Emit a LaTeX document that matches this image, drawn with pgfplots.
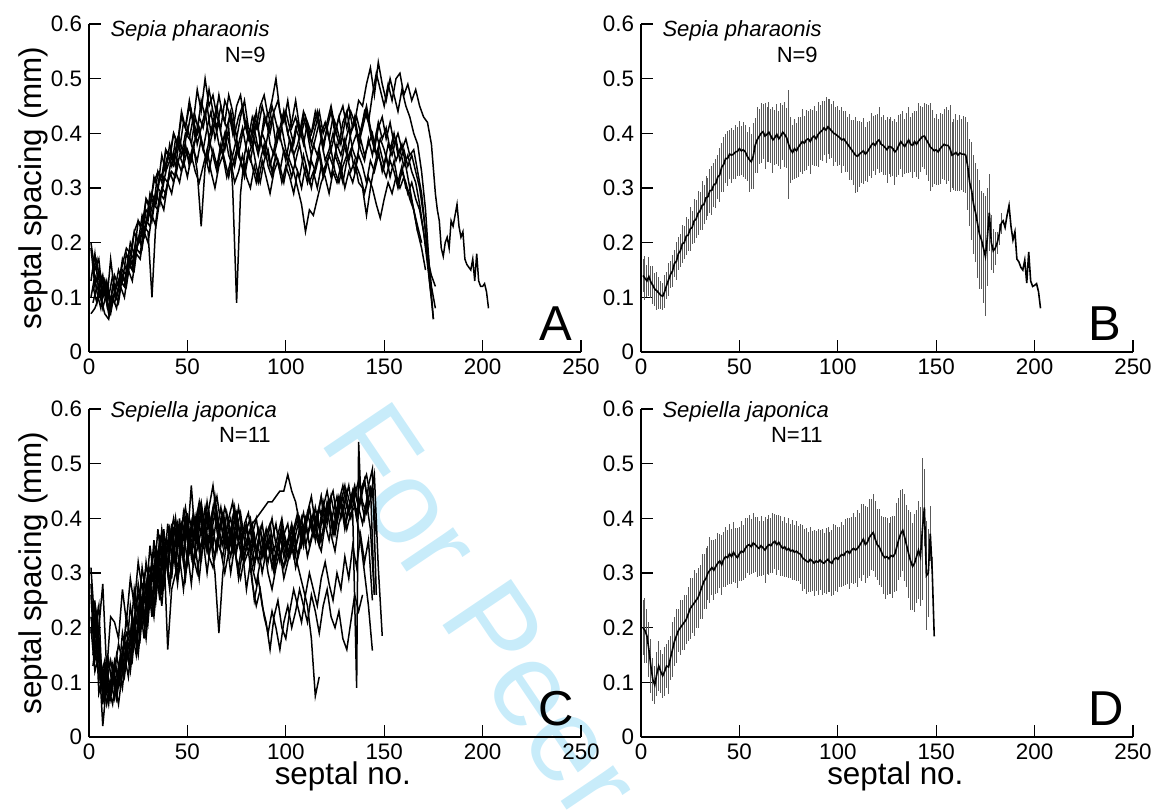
\documentclass[border=0pt]{standalone}
\usepackage{pgfplots}
\pgfplotsset{compat=1.18}
\usepackage{pgfplotstable}
\usepackage{fontspec}
\setmainfont{Liberation Sans}
\definecolor{wm}{RGB}{200,236,250}
\definecolor{errgray}{RGB}{90,90,90}

\pgfplotstableread{
x y e
1 0.140 0.030
2 0.135 0.040
3 0.130 0.030
4 0.138 0.035
5 0.128 0.030
6 0.122 0.035
7 0.115 0.030
8 0.112 0.035
9 0.108 0.030
10 0.104 0.025
11 0.102 0.025
12 0.110 0.030
13 0.122 0.025
14 0.132 0.030
15 0.142 0.025
16 0.148 0.030
17 0.162 0.025
18 0.166 0.035
19 0.180 0.030
20 0.185 0.030
21 0.198 0.035
22 0.200 0.030
23 0.212 0.035
24 0.214 0.030
25 0.225 0.040
26 0.228 0.030
27 0.240 0.040
28 0.243 0.035
29 0.254 0.040
30 0.258 0.035
31 0.268 0.045
32 0.270 0.035
33 0.282 0.040
34 0.284 0.035
35 0.295 0.040
36 0.296 0.045
37 0.306 0.040
38 0.308 0.045
39 0.320 0.040
40 0.324 0.050
41 0.338 0.045
42 0.343 0.050
43 0.354 0.045
44 0.354 0.050
45 0.362 0.045
46 0.360 0.050
47 0.362 0.045
48 0.366 0.050
49 0.367 0.045
50 0.372 0.050
51 0.368 0.045
52 0.370 0.050
53 0.366 0.050
54 0.358 0.045
55 0.352 0.060
56 0.348 0.050
57 0.358 0.060
58 0.378 0.050
59 0.388 0.060
60 0.394 0.050
61 0.400 0.055
62 0.403 0.050
63 0.395 0.060
64 0.398 0.050
65 0.402 0.055
66 0.395 0.050
67 0.388 0.060
68 0.392 0.050
69 0.398 0.055
70 0.390 0.050
71 0.395 0.060
72 0.402 0.050
73 0.398 0.060
74 0.392 0.055
75 0.380 0.100
76 0.370 0.060
77 0.365 0.050
78 0.372 0.055
79 0.368 0.050
80 0.375 0.055
81 0.380 0.050
82 0.385 0.060
83 0.382 0.050
84 0.388 0.055
85 0.390 0.050
86 0.385 0.060
87 0.392 0.050
88 0.395 0.055
89 0.390 0.050
90 0.398 0.060
91 0.402 0.050
92 0.405 0.055
93 0.410 0.050
94 0.406 0.060
95 0.412 0.050
96 0.408 0.055
97 0.404 0.050
98 0.400 0.060
99 0.398 0.050
100 0.395 0.055
101 0.392 0.050
102 0.388 0.060
103 0.390 0.050
104 0.385 0.055
105 0.380 0.050
106 0.375 0.060
107 0.370 0.055
108 0.365 0.060
109 0.360 0.070
110 0.358 0.065
111 0.362 0.060
112 0.365 0.055
113 0.368 0.060
114 0.362 0.050
115 0.366 0.055
116 0.372 0.050
117 0.378 0.060
118 0.382 0.050
119 0.378 0.055
120 0.385 0.050
121 0.388 0.060
122 0.380 0.050
123 0.378 0.055
124 0.374 0.050
125 0.370 0.060
126 0.376 0.050
127 0.375 0.055
128 0.372 0.050
129 0.366 0.060
130 0.370 0.050
131 0.378 0.055
132 0.385 0.050
133 0.380 0.060
134 0.376 0.050
135 0.382 0.055
136 0.388 0.060
137 0.380 0.050
138 0.378 0.060
139 0.385 0.055
140 0.380 0.060
141 0.386 0.070
142 0.390 0.060
143 0.394 0.055
144 0.395 0.060
145 0.388 0.065
146 0.382 0.070
147 0.375 0.080
148 0.372 0.070
149 0.368 0.060
150 0.370 0.065
151 0.366 0.060
152 0.372 0.065
153 0.376 0.060
154 0.380 0.065
155 0.378 0.070
156 0.378 0.065
157 0.372 0.080
158 0.360 0.060
159 0.362 0.065
160 0.365 0.070
161 0.360 0.065
162 0.364 0.070
163 0.362 0.065
164 0.362 0.070
165 0.360 0.070
166 0.340 0.080
167 0.310 0.080
168 0.295 0.090
169 0.270 0.090
170 0.255 0.090
171 0.235 0.100
172 0.215 0.100
173 0.205 0.090
174 0.190 0.100
175 0.175 0.110
176 0.210 0.090
177 0.255 0.070
178 0.200 0.050
179 0.185 0.040
180 0.190 0.030
181 0.200 0.020
182 0.215 0.020
183 0.235 0.020
184 0.240 0
185 0.228 0
186 0.250 0
187 0.268 0
188 0.230 0
189 0.205 0
190 0.220 0
191 0.170 0
192 0.165 0
193 0.155 0
194 0.150 0
195 0.168 0
196 0.126 0
197 0.183 0
198 0.130 0
199 0.120 0
200 0.122 0
201 0.125 0
202 0.110 0
203 0.080 0
}\tabB

\pgfplotstableread{
x y e
1 0.200 0.050
2 0.195 0.060
3 0.185 0.050
4 0.160 0.050
5 0.130 0.050
6 0.105 0.040
7 0.095 0.035
8 0.115 0.040
9 0.130 0.045
10 0.120 0.040
11 0.112 0.040
12 0.120 0.045
13 0.130 0.040
14 0.128 0.050
15 0.145 0.040
16 0.160 0.050
17 0.175 0.045
18 0.185 0.050
19 0.195 0.040
20 0.200 0.050
21 0.205 0.045
22 0.210 0.050
23 0.215 0.045
24 0.225 0.050
25 0.235 0.055
26 0.240 0.050
27 0.245 0.060
28 0.250 0.050
29 0.255 0.055
30 0.265 0.050
31 0.275 0.060
32 0.285 0.050
33 0.290 0.055
34 0.300 0.050
35 0.305 0.060
36 0.310 0.050
37 0.305 0.055
38 0.312 0.050
39 0.318 0.055
40 0.322 0.050
41 0.315 0.055
42 0.325 0.050
43 0.330 0.055
44 0.328 0.050
45 0.335 0.055
46 0.330 0.050
47 0.338 0.055
48 0.332 0.050
49 0.328 0.055
50 0.335 0.050
51 0.340 0.055
52 0.338 0.050
53 0.345 0.055
54 0.350 0.050
55 0.352 0.055
56 0.348 0.050
57 0.355 0.055
58 0.352 0.050
59 0.348 0.055
60 0.345 0.050
61 0.350 0.055
62 0.346 0.050
63 0.342 0.060
64 0.348 0.050
65 0.352 0.055
66 0.350 0.050
67 0.355 0.055
68 0.358 0.050
69 0.352 0.055
70 0.356 0.050
71 0.350 0.055
72 0.345 0.050
73 0.348 0.055
74 0.342 0.050
75 0.345 0.055
76 0.340 0.050
77 0.342 0.055
78 0.338 0.050
79 0.340 0.055
80 0.336 0.050
81 0.335 0.055
82 0.328 0.060
83 0.325 0.055
84 0.322 0.060
85 0.320 0.055
86 0.325 0.060
87 0.322 0.055
88 0.318 0.060
89 0.322 0.055
90 0.320 0.060
91 0.324 0.055
92 0.320 0.060
93 0.318 0.055
94 0.322 0.060
95 0.325 0.060
96 0.320 0.055
97 0.318 0.060
98 0.325 0.065
99 0.328 0.060
100 0.325 0.060
101 0.330 0.055
102 0.334 0.060
103 0.332 0.055
104 0.338 0.060
105 0.340 0.060
106 0.336 0.065
107 0.342 0.060
108 0.345 0.065
109 0.342 0.060
110 0.345 0.070
111 0.350 0.060
112 0.356 0.070
113 0.362 0.065
114 0.352 0.070
115 0.356 0.065
116 0.365 0.070
117 0.370 0.065
118 0.374 0.070
119 0.362 0.070
120 0.352 0.065
121 0.348 0.070
122 0.340 0.065
123 0.332 0.070
124 0.328 0.075
125 0.330 0.070
126 0.326 0.065
127 0.332 0.070
128 0.330 0.075
129 0.335 0.070
130 0.348 0.080
131 0.362 0.075
132 0.372 0.080
133 0.378 0.075
134 0.365 0.080
135 0.350 0.075
136 0.335 0.080
137 0.322 0.090
138 0.312 0.080
139 0.318 0.090
140 0.330 0.085
141 0.342 0.090
142 0.330 0.090
143 0.380 0.130
144 0.420 0.070
145 0.295 0.100
146 0.300 0.080
147 0.372 0.050
148 0.300 0.030
149 0.184 0
}\tabD

\pgfplotsset{
  panel/.style={
    scale only axis, width=246bp, height=164bp, anchor=south west,
    xmin=0, xmax=250, ymin=0, ymax=0.6,
    axis x line*=bottom, axis y line*=left,
    xtick={0,50,100,150,200,250},
    ytick={0,0.1,0.2,0.3,0.4,0.5,0.6},
    tick align=inside, major tick length=5.8bp,
    every tick/.style={black, line width=0.6bp},
    axis line style={black, line width=0.9bp},
    tick label style={font=\fontsize{11.2bp}{13bp}\selectfont},
    /pgf/number format/assume math mode=true,
    yticklabel style={/pgf/number format/fixed, /pgf/number format/precision=1},
    clip=false,
  },
  ser/.style={black, line width=0.75bp, mark=none},
  ebar/.style={draw=none, mark=none,
    error bars/.cd, y dir=both, y explicit, error mark=none,
    error bar style={draw=errgray, line width=0.45bp, solid}},
}
\newcommand{\ttlfont}{\fontsize{11bp}{13bp}\selectfont\itshape}
\newcommand{\nfont}{\fontsize{11bp}{13bp}\selectfont}
\newcommand{\letfont}{\fontsize{24.5bp}{28bp}\selectfont}
\newcommand{\labfont}{\fontsize{15.7bp}{18bp}\selectfont}

\begin{document}
\begin{tikzpicture}
\path[use as bounding box] (0bp,0bp) rectangle (580.5bp,-405bp);
\node[rotate=-56, anchor=base west, text=wm, font=\fontsize{60bp}{72bp}\selectfont, inner sep=0pt] at (159bp,-220bp) {For Peer Review};

% Panel A
\begin{axis}[panel, at={(44.5bp,-176bp)}]
% s1
\addplot[ser] coordinates {(1,0.19)(3,0.12)(5,0.15)(7,0.10)(9,0.12)(11,0.08)(13,0.11)(15,0.13)(17,0.16)(19,0.19)(21,0.18)(23,0.22)(25,0.24)(27,0.23)(29,0.28)(31,0.27)(33,0.31)(35,0.33)(37,0.32)(39,0.37)(41,0.36)(43,0.40)(45,0.38)(47,0.43)(49,0.41)(51,0.45)(53,0.42)(55,0.40)(57,0.46)(59,0.43)(61,0.48)(63,0.44)(65,0.41)(67,0.45)(69,0.42)(71,0.47)(73,0.44)(75,0.39)(77,0.43)(79,0.46)(81,0.41)(83,0.40)(85,0.44)(87,0.38)(89,0.43)(91,0.41)(93,0.45)(95,0.42)(97,0.39)(99,0.44)(101,0.40)(103,0.42)(105,0.46)(107,0.41)(109,0.38)(111,0.42)(113,0.40)(115,0.44)(117,0.41)(119,0.37)(121,0.41)(123,0.44)(125,0.40)(127,0.43)(129,0.45)(131,0.41)(133,0.44)(135,0.42)(137,0.46)(139,0.45)(141,0.49)(143,0.52)(145,0.47)(147,0.53)(149,0.49)(151,0.46)(153,0.50)(155,0.47)(157,0.44)(159,0.48)(161,0.45)(163,0.43)(165,0.40)(167,0.38)(169,0.33)(171,0.26)(173,0.15)(175,0.06)};
% s2
\addplot[ser] coordinates {(2,0.15)(4,0.17)(6,0.10)(8,0.13)(10,0.08)(12,0.09)(14,0.12)(16,0.14)(18,0.13)(20,0.17)(22,0.16)(24,0.21)(26,0.20)(28,0.25)(30,0.24)(32,0.29)(34,0.27)(36,0.32)(38,0.33)(40,0.36)(42,0.34)(44,0.39)(46,0.37)(48,0.42)(50,0.40)(52,0.44)(54,0.39)(56,0.43)(58,0.41)(60,0.45)(62,0.40)(64,0.42)(66,0.47)(68,0.43)(70,0.41)(72,0.44)(74,0.40)(76,0.43)(78,0.45)(80,0.41)(82,0.39)(84,0.43)(86,0.41)(88,0.45)(90,0.42)(92,0.40)(94,0.44)(96,0.46)(98,0.42)(100,0.44)(102,0.41)(104,0.38)(106,0.42)(108,0.40)(110,0.43)(112,0.39)(114,0.41)(116,0.44)(118,0.40)(120,0.42)(122,0.39)(124,0.43)(126,0.41)(128,0.38)(130,0.42)(132,0.45)(134,0.41)(136,0.43)(138,0.40)(140,0.44)(142,0.42)(144,0.47)(146,0.51)(148,0.48)(150,0.45)(152,0.49)(154,0.46)(156,0.50)(158,0.51)(160,0.47)(162,0.49)(164,0.46)(166,0.48)(168,0.45)(170,0.43)(172,0.42)(174,0.38)(176,0.29)(177,0.26)(178,0.24)(179,0.19)(180,0.175)(181,0.20)(182,0.21)(183,0.19)(184,0.24)(185,0.23)(186,0.25)(187,0.27)(188,0.23)(189,0.21)(190,0.22)(191,0.17)(192,0.16)(193,0.155)(194,0.15)(195,0.17)(196,0.13)(197,0.18)(198,0.13)(199,0.12)(200,0.12)(201,0.125)(202,0.11)(203,0.08)};
% s3
\addplot[ser] coordinates {(1,0.10)(3,0.14)(5,0.12)(7,0.08)(9,0.11)(11,0.10)(13,0.09)(15,0.12)(17,0.15)(19,0.14)(21,0.18)(23,0.17)(25,0.20)(27,0.22)(29,0.26)(31,0.25)(33,0.28)(35,0.30)(37,0.29)(39,0.33)(41,0.35)(43,0.34)(45,0.38)(47,0.36)(49,0.40)(51,0.39)(53,0.43)(55,0.38)(57,0.41)(59,0.44)(61,0.39)(63,0.42)(65,0.45)(67,0.40)(69,0.37)(71,0.41)(73,0.30)(75,0.09)(77,0.29)(79,0.36)(81,0.40)(83,0.38)(85,0.42)(87,0.39)(89,0.36)(91,0.40)(93,0.43)(95,0.38)(97,0.41)(99,0.44)(101,0.40)(103,0.37)(105,0.41)(107,0.39)(109,0.43)(111,0.40)(113,0.36)(115,0.39)(117,0.42)(119,0.38)(121,0.41)(123,0.37)(125,0.40)(127,0.43)(129,0.39)(131,0.36)(133,0.40)(135,0.42)(137,0.38)(139,0.41)(141,0.44)(143,0.40)(145,0.37)(147,0.41)(149,0.43)(151,0.39)(153,0.42)(155,0.38)(157,0.40)(159,0.37)(161,0.39)(163,0.36)(165,0.37)(167,0.33)(169,0.29)(171,0.22)(173,0.13)(175,0.06)};
% s4
\addplot[ser] coordinates {(2,0.12)(4,0.09)(6,0.14)(8,0.11)(10,0.07)(12,0.12)(14,0.10)(16,0.13)(18,0.12)(20,0.16)(22,0.15)(24,0.19)(26,0.18)(28,0.23)(30,0.22)(32,0.10)(34,0.24)(36,0.29)(38,0.28)(40,0.31)(42,0.33)(44,0.32)(46,0.36)(48,0.34)(50,0.37)(52,0.35)(54,0.39)(56,0.41)(58,0.37)(60,0.35)(62,0.39)(64,0.42)(66,0.38)(68,0.36)(70,0.40)(72,0.37)(74,0.34)(76,0.38)(78,0.41)(80,0.37)(82,0.35)(84,0.39)(86,0.36)(88,0.40)(90,0.38)(92,0.34)(94,0.37)(96,0.41)(98,0.38)(100,0.35)(102,0.39)(104,0.36)(106,0.38)(108,0.41)(110,0.37)(112,0.34)(114,0.38)(116,0.36)(118,0.39)(120,0.35)(122,0.37)(124,0.40)(126,0.36)(128,0.34)(130,0.38)(132,0.41)(134,0.37)(136,0.35)(138,0.39)(140,0.36)(142,0.38)(144,0.40)(146,0.36)(148,0.39)(150,0.37)(152,0.34)(154,0.38)(156,0.35)(158,0.37)(160,0.34)(162,0.36)(164,0.33)(166,0.31)(168,0.27)(170,0.22)(172,0.16)(174,0.10)};
% s5
\addplot[ser] coordinates {(1,0.07)(3,0.08)(5,0.10)(7,0.12)(9,0.09)(11,0.07)(13,0.11)(15,0.09)(17,0.14)(19,0.12)(21,0.17)(23,0.15)(25,0.21)(27,0.19)(29,0.24)(31,0.23)(33,0.27)(35,0.26)(37,0.30)(39,0.29)(41,0.33)(43,0.31)(45,0.35)(47,0.33)(49,0.37)(51,0.35)(53,0.38)(55,0.33)(57,0.23)(59,0.34)(61,0.39)(63,0.36)(65,0.33)(67,0.37)(69,0.40)(71,0.36)(73,0.34)(75,0.37)(77,0.35)(79,0.32)(81,0.36)(83,0.38)(85,0.34)(87,0.31)(89,0.35)(91,0.37)(93,0.33)(95,0.36)(97,0.34)(99,0.31)(101,0.35)(103,0.38)(105,0.34)(107,0.32)(109,0.36)(111,0.33)(113,0.30)(115,0.34)(117,0.37)(119,0.33)(121,0.35)(123,0.32)(125,0.36)(127,0.34)(129,0.31)(131,0.35)(133,0.37)(135,0.33)(137,0.36)(139,0.34)(141,0.31)(143,0.35)(145,0.33)(147,0.36)(149,0.34)(151,0.32)(153,0.35)(155,0.33)(157,0.30)(159,0.33)(161,0.31)(163,0.28)(165,0.26)(167,0.22)(169,0.19)(171,0.15)};
% s6
\addplot[ser] coordinates {(2,0.16)(4,0.11)(6,0.08)(8,0.13)(10,0.10)(12,0.14)(14,0.10)(16,0.13)(18,0.12)(20,0.17)(22,0.15)(24,0.19)(26,0.22)(28,0.21)(30,0.26)(32,0.24)(34,0.29)(36,0.27)(38,0.32)(40,0.31)(42,0.36)(44,0.34)(46,0.39)(48,0.36)(50,0.41)(52,0.38)(54,0.43)(56,0.40)(58,0.37)(60,0.41)(62,0.44)(64,0.39)(66,0.42)(68,0.38)(70,0.41)(72,0.43)(74,0.39)(76,0.36)(78,0.40)(80,0.42)(82,0.38)(84,0.41)(86,0.37)(88,0.40)(90,0.43)(92,0.38)(94,0.36)(96,0.39)(98,0.41)(100,0.37)(102,0.35)(104,0.33)(106,0.30)(108,0.27)(110,0.22)(112,0.26)(114,0.25)(116,0.28)(118,0.31)(120,0.33)(122,0.36)(124,0.34)(126,0.38)(128,0.36)(130,0.39)(132,0.35)(134,0.38)(136,0.40)(138,0.37)(140,0.35)(142,0.39)(144,0.36)(146,0.40)(148,0.37)(150,0.34)(152,0.38)(154,0.36)(156,0.39)(158,0.35)(160,0.37)(162,0.34)(164,0.36)(166,0.33)(168,0.30)(170,0.25)(172,0.19)(174,0.12)(176,0.08)};
% s7
\addplot[ser] coordinates {(1,0.20)(3,0.15)(5,0.17)(7,0.10)(9,0.13)(11,0.09)(13,0.14)(15,0.12)(17,0.17)(19,0.15)(21,0.20)(23,0.18)(25,0.24)(27,0.22)(29,0.28)(31,0.26)(33,0.32)(35,0.30)(37,0.36)(39,0.33)(41,0.38)(43,0.35)(45,0.39)(47,0.36)(49,0.38)(51,0.34)(53,0.37)(55,0.35)(57,0.39)(59,0.36)(61,0.33)(63,0.37)(65,0.34)(67,0.38)(69,0.35)(71,0.32)(73,0.36)(75,0.39)(77,0.35)(79,0.33)(81,0.37)(83,0.34)(85,0.31)(87,0.35)(89,0.38)(91,0.34)(93,0.32)(95,0.36)(97,0.33)(99,0.37)(101,0.35)(103,0.32)(105,0.35)(107,0.38)(109,0.34)(111,0.31)(113,0.35)(115,0.33)(117,0.36)(119,0.32)(121,0.35)(123,0.37)(125,0.33)(127,0.31)(129,0.34)(131,0.36)(133,0.33)(135,0.35)(137,0.31)(139,0.30)(141,0.25)(143,0.30)(145,0.34)(147,0.37)(149,0.33)(151,0.36)(153,0.32)(155,0.35)(157,0.31)(159,0.34)(161,0.30)(163,0.29)(165,0.26)(167,0.23)(169,0.20)};
% s8
\addplot[ser] coordinates {(2,0.09)(4,0.12)(6,0.10)(8,0.07)(10,0.06)(12,0.10)(14,0.08)(16,0.12)(18,0.10)(20,0.15)(22,0.13)(24,0.18)(26,0.17)(28,0.22)(30,0.20)(32,0.25)(34,0.23)(36,0.28)(38,0.26)(40,0.31)(42,0.29)(44,0.33)(46,0.31)(48,0.35)(50,0.32)(52,0.36)(54,0.33)(56,0.31)(58,0.34)(60,0.37)(62,0.33)(64,0.30)(66,0.34)(68,0.36)(70,0.32)(72,0.35)(74,0.31)(76,0.33)(78,0.36)(80,0.32)(82,0.30)(84,0.34)(86,0.31)(88,0.35)(90,0.32)(92,0.29)(94,0.33)(96,0.35)(98,0.31)(100,0.34)(102,0.32)(104,0.29)(106,0.33)(108,0.30)(110,0.34)(112,0.31)(114,0.33)(116,0.30)(118,0.34)(120,0.32)(122,0.29)(124,0.33)(126,0.31)(128,0.34)(130,0.30)(132,0.33)(134,0.31)(136,0.34)(138,0.32)(140,0.29)(142,0.32)(144,0.30)(146,0.27)(148,0.245)(150,0.28)(152,0.31)(154,0.29)(156,0.32)(158,0.30)(160,0.32)(162,0.29)(164,0.31)(166,0.28)(168,0.26)(170,0.22)(172,0.17)(174,0.14)(176,0.12)};
% s9
\addplot[ser] coordinates {(1,0.13)(3,0.18)(5,0.11)(7,0.14)(9,0.09)(11,0.17)(13,0.11)(15,0.15)(17,0.13)(19,0.18)(21,0.16)(23,0.22)(25,0.20)(27,0.25)(29,0.23)(31,0.29)(33,0.27)(35,0.33)(37,0.31)(39,0.37)(41,0.35)(43,0.40)(45,0.38)(47,0.44)(49,0.41)(51,0.46)(53,0.42)(55,0.48)(57,0.44)(59,0.50)(61,0.45)(63,0.47)(65,0.43)(67,0.41)(69,0.46)(71,0.44)(73,0.40)(75,0.45)(77,0.47)(79,0.42)(81,0.39)(83,0.43)(85,0.41)(87,0.45)(89,0.47)(91,0.43)(93,0.46)(95,0.50)(97,0.44)(99,0.42)(101,0.46)(103,0.41)(105,0.43)(107,0.40)(109,0.44)(111,0.42)(113,0.38)(115,0.41)(117,0.44)(119,0.40)(121,0.42)(123,0.45)(125,0.41)(127,0.38)(129,0.42)(131,0.44)(133,0.40)(135,0.43)(137,0.39)(139,0.42)(141,0.45)(143,0.41)(145,0.38)(147,0.42)(149,0.39)(151,0.41)(153,0.37)(155,0.40)(157,0.36)(159,0.38)(161,0.34)(163,0.30)(165,0.26)(167,0.22)};
\node[anchor=base west, font=\ttlfont, inner sep=0pt, yshift=-6bp] at (rel axis cs:0.043,1) {Sepia pharaonis};
\node[anchor=base east, font=\nfont, inner sep=0pt, yshift=-19bp] at (rel axis cs:0.360,1) {N=9};
\node[anchor=base east, font=\letfont, inner sep=0pt] at (rel axis cs:0.982,0.034) {A};
\node[rotate=90, anchor=base, font=\labfont, inner sep=0pt] at (rel axis cs:-0.0965,0.5) {septal spacing (mm)};
\end{axis}

% Panel B
\begin{axis}[panel, at={(320.5bp,-176bp)}]
\addplot[ebar] table[x=x, y=y, y error=e] {\tabB};
\addplot[ser, line width=0.8bp] table[x=x, y=y] {\tabB};
\node[anchor=base west, font=\ttlfont, inner sep=0pt, yshift=-6bp] at (rel axis cs:0.043,1) {Sepia pharaonis};
\node[anchor=base east, font=\nfont, inner sep=0pt, yshift=-19bp] at (rel axis cs:0.360,1) {N=9};
\node[anchor=base east, font=\letfont, inner sep=0pt] at (rel axis cs:0.976,0.034) {B};
\end{axis}

% Panel C
\begin{axis}[panel, at={(44.5bp,-368.5bp)}]
% c1
\addplot[ser] coordinates {(1,0.22)(3,0.16)(5,0.12)(7,0.08)(9,0.11)(11,0.07)(13,0.13)(15,0.10)(17,0.16)(19,0.19)(21,0.17)(23,0.22)(25,0.26)(27,0.23)(29,0.28)(31,0.31)(33,0.29)(35,0.34)(37,0.37)(39,0.33)(41,0.36)(43,0.40)(45,0.35)(47,0.38)(49,0.42)(51,0.37)(53,0.35)(55,0.40)(57,0.43)(59,0.38)(61,0.36)(63,0.41)(65,0.44)(67,0.39)(69,0.36)(71,0.40)(73,0.43)(75,0.37)(77,0.34)(79,0.39)(81,0.41)(83,0.36)(85,0.33)(87,0.38)(89,0.35)(91,0.32)(93,0.36)(95,0.39)(97,0.34)(99,0.31)(101,0.35)(103,0.38)(105,0.33)(107,0.30)(109,0.27)(111,0.24)(113,0.18)(115,0.075)(117,0.11)};
% c2
\addplot[ser] coordinates {(2,0.15)(4,0.21)(6,0.10)(8,0.13)(10,0.07)(12,0.12)(14,0.09)(16,0.15)(18,0.12)(20,0.20)(22,0.16)(24,0.25)(26,0.20)(28,0.29)(30,0.24)(32,0.33)(34,0.27)(36,0.37)(38,0.30)(40,0.39)(42,0.33)(44,0.40)(46,0.34)(48,0.41)(50,0.36)(52,0.46)(54,0.36)(56,0.42)(58,0.37)(60,0.43)(62,0.38)(64,0.44)(66,0.38)(68,0.35)(70,0.41)(72,0.37)(74,0.42)(76,0.36)(78,0.33)(80,0.38)(82,0.40)(84,0.35)(86,0.38)(88,0.33)(90,0.37)(92,0.39)(94,0.34)(96,0.37)(98,0.40)(100,0.35)(102,0.33)(104,0.38)(106,0.41)(108,0.36)(110,0.39)(112,0.42)(114,0.37)(116,0.40)(118,0.44)(120,0.39)(122,0.43)(124,0.45)(126,0.40)(128,0.43)(130,0.46)(132,0.41)(134,0.44)(136,0.40)(138,0.36)(140,0.30)(142,0.24)(144,0.158)};
% c3
\addplot[ser] coordinates {(1,0.31)(3,0.20)(5,0.24)(7,0.06)(9,0.12)(11,0.09)(13,0.14)(15,0.11)(17,0.19)(19,0.15)(21,0.24)(23,0.19)(25,0.28)(27,0.23)(29,0.32)(31,0.27)(33,0.36)(35,0.30)(37,0.38)(39,0.33)(41,0.38)(43,0.34)(45,0.39)(47,0.35)(49,0.40)(51,0.36)(53,0.41)(55,0.37)(57,0.42)(59,0.38)(61,0.42)(63,0.46)(65,0.40)(67,0.38)(69,0.42)(71,0.39)(73,0.35)(75,0.38)(77,0.41)(79,0.36)(81,0.34)(83,0.37)(85,0.40)(87,0.35)(89,0.33)(91,0.36)(93,0.31)(95,0.34)(97,0.37)(99,0.33)(101,0.36)(103,0.39)(105,0.35)(107,0.38)(109,0.41)(111,0.37)(113,0.40)(115,0.36)(117,0.42)(119,0.39)(121,0.43)(123,0.40)(125,0.37)(127,0.41)(129,0.44)(131,0.40)(133,0.43)(135,0.46)(137,0.42)(139,0.39)(141,0.43)(143,0.38)(145,0.26)};
% c4
\addplot[ser] coordinates {(2,0.18)(4,0.23)(6,0.14)(8,0.10)(10,0.06)(12,0.13)(14,0.08)(16,0.14)(18,0.11)(20,0.17)(22,0.14)(24,0.22)(26,0.18)(28,0.26)(30,0.21)(32,0.30)(34,0.25)(36,0.33)(38,0.27)(40,0.36)(42,0.29)(44,0.37)(46,0.31)(48,0.38)(50,0.32)(52,0.39)(54,0.33)(56,0.36)(58,0.40)(60,0.34)(62,0.37)(64,0.41)(66,0.35)(68,0.33)(70,0.38)(72,0.40)(74,0.35)(76,0.39)(78,0.33)(80,0.36)(82,0.38)(84,0.32)(86,0.35)(88,0.30)(90,0.34)(92,0.36)(94,0.31)(96,0.34)(98,0.37)(100,0.32)(102,0.35)(104,0.38)(106,0.33)(108,0.37)(110,0.40)(112,0.35)(114,0.38)(116,0.41)(118,0.36)(120,0.40)(122,0.43)(124,0.38)(126,0.41)(128,0.44)(130,0.39)(132,0.42)(134,0.45)(136,0.40)(138,0.43)(140,0.47)(142,0.42)(144,0.45)(146,0.37)};
% c5
\addplot[ser] coordinates {(1,0.26)(3,0.14)(5,0.18)(7,0.09)(9,0.13)(11,0.08)(13,0.12)(15,0.17)(17,0.14)(19,0.22)(21,0.18)(23,0.27)(25,0.22)(27,0.31)(29,0.26)(31,0.35)(33,0.29)(35,0.38)(37,0.32)(39,0.36)(41,0.34)(43,0.38)(45,0.35)(47,0.39)(49,0.36)(51,0.40)(53,0.37)(55,0.41)(57,0.37)(59,0.42)(61,0.38)(63,0.42)(65,0.38)(67,0.42)(69,0.37)(71,0.34)(73,0.38)(75,0.41)(77,0.36)(79,0.33)(81,0.37)(83,0.39)(85,0.34)(87,0.38)(89,0.33)(91,0.37)(93,0.40)(95,0.35)(97,0.32)(99,0.37)(101,0.39)(103,0.34)(105,0.37)(107,0.40)(109,0.36)(111,0.41)(113,0.38)(115,0.42)(117,0.38)(119,0.43)(121,0.39)(123,0.44)(125,0.40)(127,0.44)(129,0.41)(131,0.45)(133,0.42)(135,0.45)(137,0.42)(139,0.46)(141,0.48)(143,0.44)(145,0.48)(147,0.31)(149,0.185)};
% c6
\addplot[ser] coordinates {(2,0.13)(4,0.19)(6,0.09)(8,0.12)(10,0.08)(12,0.11)(14,0.07)(16,0.12)(18,0.18)(20,0.14)(22,0.22)(24,0.17)(26,0.27)(28,0.21)(30,0.31)(32,0.24)(34,0.35)(36,0.28)(38,0.38)(40,0.31)(42,0.39)(44,0.32)(46,0.40)(48,0.33)(50,0.41)(52,0.34)(54,0.39)(56,0.43)(58,0.37)(60,0.34)(62,0.40)(64,0.43)(66,0.38)(68,0.41)(70,0.36)(72,0.33)(74,0.38)(76,0.42)(78,0.37)(80,0.39)(82,0.35)(84,0.31)(86,0.36)(88,0.39)(90,0.34)(92,0.37)(94,0.32)(96,0.35)(98,0.39)(100,0.36)(102,0.33)(104,0.37)(106,0.40)(108,0.35)(110,0.38)(112,0.42)(114,0.37)(116,0.40)(118,0.44)(120,0.39)(122,0.36)(124,0.41)(126,0.44)(128,0.40)(130,0.43)(132,0.46)(134,0.41)(136,0.09)(137,0.54)(138,0.45)(140,0.47)(142,0.42)};
% c7
\addplot[ser] coordinates {(1,0.20)(3,0.12)(5,0.15)(7,0.02)(9,0.10)(11,0.14)(13,0.10)(15,0.06)(17,0.12)(19,0.17)(21,0.13)(23,0.21)(25,0.16)(27,0.25)(29,0.20)(31,0.29)(33,0.23)(35,0.33)(37,0.26)(39,0.35)(41,0.28)(43,0.36)(45,0.29)(47,0.37)(49,0.30)(51,0.38)(53,0.31)(55,0.39)(57,0.32)(59,0.40)(61,0.33)(63,0.38)(65,0.34)(67,0.39)(69,0.35)(71,0.38)(73,0.34)(75,0.37)(77,0.36)(79,0.38)(81,0.37)(83,0.39)(85,0.40)(87,0.41)(89,0.42)(91,0.43)(93,0.43)(95,0.44)(97,0.45)(99,0.45)(101,0.48)(103,0.45)(105,0.43)(107,0.39)(109,0.35)(111,0.41)(113,0.44)(115,0.39)(117,0.36)(119,0.42)(121,0.45)(123,0.41)(125,0.38)(127,0.43)(129,0.46)(131,0.42)(133,0.40)(135,0.44)(137,0.47)(139,0.43)(141,0.41)(143,0.46)(145,0.26)};
% c8
\addplot[ser] coordinates {(2,0.17)(4,0.22)(6,0.11)(8,0.14)(10,0.09)(12,0.06)(14,0.12)(16,0.09)(18,0.15)(20,0.11)(22,0.19)(24,0.15)(26,0.24)(28,0.18)(30,0.28)(32,0.22)(34,0.31)(36,0.25)(38,0.35)(40,0.16)(42,0.27)(44,0.30)(46,0.33)(48,0.27)(50,0.34)(52,0.28)(54,0.35)(56,0.29)(58,0.36)(60,0.30)(62,0.36)(64,0.30)(66,0.19)(68,0.30)(70,0.36)(72,0.30)(74,0.35)(76,0.29)(78,0.34)(80,0.27)(82,0.32)(84,0.25)(86,0.29)(88,0.24)(90,0.21)(92,0.16)(94,0.22)(96,0.25)(98,0.20)(100,0.18)(102,0.23)(104,0.27)(106,0.24)(108,0.21)(110,0.26)(112,0.30)(114,0.27)(116,0.24)(118,0.29)(120,0.32)(122,0.28)(124,0.25)(126,0.30)(128,0.27)(130,0.33)(132,0.29)(134,0.35)(136,0.31)(138,0.37)(140,0.32)(142,0.36)(144,0.25)};
% c9
\addplot[ser] coordinates {(1,0.28)(3,0.16)(5,0.20)(7,0.28)(9,0.12)(11,0.22)(13,0.21)(15,0.18)(17,0.27)(19,0.21)(21,0.29)(23,0.24)(25,0.32)(27,0.27)(29,0.31)(31,0.29)(33,0.34)(35,0.30)(37,0.37)(39,0.32)(41,0.38)(43,0.33)(45,0.38)(47,0.34)(49,0.39)(51,0.34)(53,0.40)(55,0.35)(57,0.41)(59,0.35)(61,0.41)(63,0.35)(65,0.41)(67,0.35)(69,0.40)(71,0.35)(73,0.40)(75,0.34)(77,0.38)(79,0.32)(81,0.34)(83,0.28)(85,0.24)(87,0.27)(89,0.22)(91,0.19)(93,0.23)(95,0.20)(97,0.16)(99,0.21)(101,0.24)(103,0.20)(105,0.23)(107,0.27)(109,0.24)(111,0.21)(113,0.26)(115,0.23)(117,0.19)(119,0.24)(121,0.27)(123,0.22)(125,0.20)(127,0.23)(129,0.18)(131,0.16)(133,0.21)(135,0.26)(137,0.23)(139,0.26)};
% c10
\addplot[ser] coordinates {(2,0.24)(4,0.18)(6,0.13)(8,0.07)(10,0.14)(12,0.09)(14,0.15)(16,0.11)(18,0.17)(20,0.14)(22,0.22)(24,0.18)(26,0.26)(28,0.21)(30,0.29)(32,0.24)(34,0.33)(36,0.27)(38,0.36)(40,0.30)(42,0.37)(44,0.31)(46,0.38)(48,0.32)(50,0.39)(52,0.33)(54,0.40)(56,0.34)(58,0.37)(60,0.41)(62,0.36)(64,0.33)(66,0.38)(68,0.40)(70,0.35)(72,0.38)(74,0.34)(76,0.31)(78,0.36)(80,0.39)(82,0.34)(84,0.37)(86,0.32)(88,0.35)(90,0.38)(92,0.33)(94,0.30)(96,0.35)(98,0.38)(100,0.34)(102,0.37)(104,0.33)(106,0.36)(108,0.40)(110,0.35)(112,0.38)(114,0.41)(116,0.36)(118,0.34)(120,0.39)(122,0.42)(124,0.37)(126,0.40)(128,0.43)(130,0.38)(132,0.42)(134,0.45)(136,0.41)(138,0.44)(140,0.40)(142,0.46)(144,0.49)(146,0.26)};
% c11
\addplot[ser] coordinates {(1,0.19)(3,0.25)(5,0.08)(7,0.11)(9,0.06)(11,0.10)(13,0.07)(15,0.13)(17,0.09)(19,0.16)(21,0.12)(23,0.19)(25,0.15)(27,0.23)(29,0.18)(31,0.27)(33,0.22)(35,0.30)(37,0.24)(39,0.33)(41,0.27)(43,0.34)(45,0.28)(47,0.35)(49,0.29)(51,0.36)(53,0.33)(55,0.30)(57,0.35)(59,0.38)(61,0.33)(63,0.31)(65,0.36)(67,0.34)(69,0.30)(71,0.34)(73,0.37)(75,0.32)(77,0.29)(79,0.33)(81,0.36)(83,0.31)(85,0.28)(87,0.32)(89,0.35)(91,0.30)(93,0.27)(95,0.31)(97,0.34)(99,0.29)(101,0.32)(103,0.36)(105,0.31)(107,0.34)(109,0.38)(111,0.33)(113,0.36)(115,0.40)(117,0.35)(119,0.38)(121,0.42)(123,0.37)(125,0.34)(127,0.39)(129,0.42)(131,0.38)(133,0.41)(135,0.42)};
\node[anchor=base west, font=\ttlfont, inner sep=0pt, yshift=-4bp] at (rel axis cs:0.043,1) {Sepiella japonica};
\node[anchor=base east, font=\nfont, inner sep=0pt, yshift=-16.5bp] at (rel axis cs:0.370,1) {N=11};
\node[anchor=base east, font=\letfont, inner sep=0pt] at (rel axis cs:0.986,0.034) {C};
\node[rotate=90, anchor=base, font=\labfont, inner sep=0pt] at (rel axis cs:-0.0965,0.5) {septal spacing (mm)};
\node[anchor=base, font=\labfont, inner sep=0pt] at (rel axis cs:0.516,-0.146) {septal no.};
\end{axis}

% Panel D
\begin{axis}[panel, at={(320.5bp,-368.5bp)}]
\addplot[ebar] table[x=x, y=y, y error=e] {\tabD};
\addplot[ser, line width=0.8bp] table[x=x, y=y] {\tabD};
\node[anchor=base west, font=\ttlfont, inner sep=0pt, yshift=-4bp] at (rel axis cs:0.043,1) {Sepiella japonica};
\node[anchor=base east, font=\nfont, inner sep=0pt, yshift=-16.5bp] at (rel axis cs:0.370,1) {N=11};
\node[anchor=base east, font=\letfont, inner sep=0pt] at (rel axis cs:0.982,0.034) {D};
\node[anchor=base, font=\labfont, inner sep=0pt] at (rel axis cs:0.517,-0.146) {septal no.};
\end{axis}
\end{tikzpicture}
\end{document}
